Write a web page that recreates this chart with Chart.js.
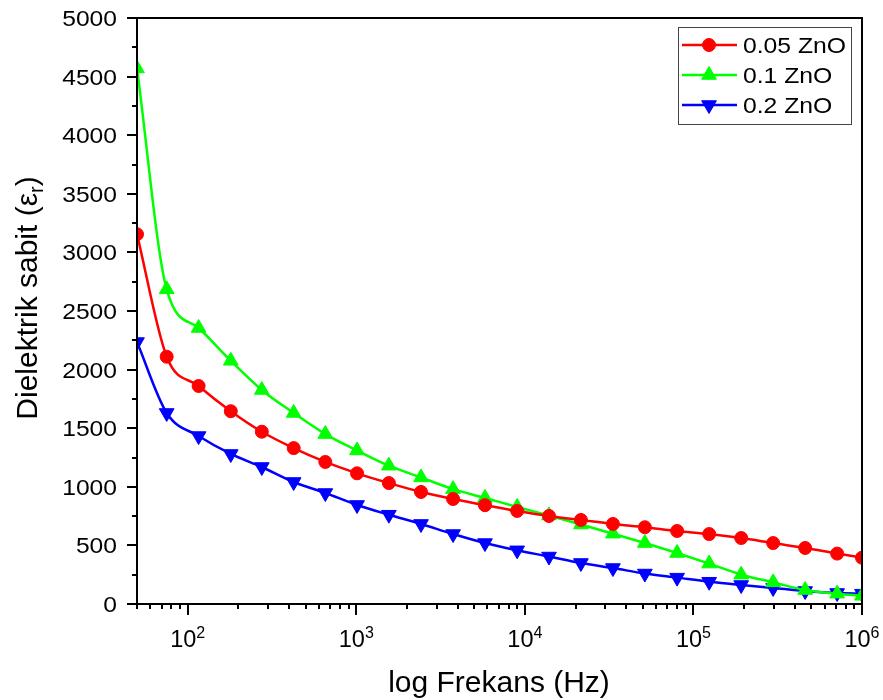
<!DOCTYPE html>
<html>
<head>
<meta charset="utf-8">
<script src="https://cdn.jsdelivr.net/npm/chart.js@4/dist/chart.umd.min.js"></script>
<style>
    body { margin: 0; background: #ffffff; }
    canvas { display: block; }
</style>
</head>
<body>
<canvas id="eps_chart" width="883" height="700"></canvas>
<script>

// frequencies (Hz)
const freq_hz = [50, 75, 116, 180, 275, 425, 655, 1010, 1560, 2420, 3750, 5800, 9000, 13900,
                 21500, 33300, 51500, 80000, 124000, 192000, 297000, 460000, 712000, 1000000];

const eps_005_zno = [3155, 2110, 1860, 1645, 1470, 1330, 1212, 1115, 1032, 956, 896, 843, 794, 751,
                     717, 683, 655, 623, 597, 563, 520, 478, 430, 395];
const eps_01_zno  = [4570, 2685, 2355, 2075, 1826, 1630, 1450, 1310, 1180, 1080, 980, 905, 828, 755,
                     678, 600, 520, 435, 345, 250, 185, 119, 88, 70];
const eps_02_zno  = [2235, 1630, 1433, 1280, 1169, 1041, 947, 845, 762, 683, 597, 520, 458, 405,
                     350, 307, 260, 225, 190, 162, 137, 111, 94, 88];

const series_names = ["0.05 ZnO", "0.1 ZnO", "0.2 ZnO"];
const y_major_ticks = [0, 500, 1000, 1500, 2000, 2500, 3000, 3500, 4000, 4500, 5000];
const x_decades = [2, 3, 4, 5, 6];

const FONT = '"Liberation Sans", Arial, sans-serif';

function toPoints(values) {
    return freq_hz.map((f, i) => ({x: f, y: values[i]}));
}

function makeDataset(label, values, color, style, rotation, radius) {
    return {
        label: label,
        data: toPoints(values),
        borderColor: color,
        backgroundColor: color,
        borderWidth: 2.5,
        pointStyle: style,
        rotation: rotation,
        pointRadius: radius,
        pointBorderWidth: 1,
        pointBorderColor: color,
        pointBackgroundColor: color,
        cubicInterpolationMode: 'monotone',
        fill: false
    };
}

function drawText(ctx, text, x, y, size, align, stretch) {
    ctx.save();
    ctx.font = size + 'px ' + FONT;
    ctx.textAlign = align;
    ctx.textBaseline = 'alphabetic';
    ctx.translate(x, y);
    ctx.scale(stretch, 1);
    ctx.fillText(text, 0, 0);
    ctx.restore();
}

function drawMarker(ctx, ds, x, y) {
    if (Chart.helpers && Chart.helpers.drawPoint) {
        ctx.fillStyle = ds.backgroundColor;
        ctx.strokeStyle = ds.borderColor;
        ctx.lineWidth = 1;
        Chart.helpers.drawPoint(ctx, {pointStyle: ds.pointStyle, rotation: ds.rotation, radius: ds.pointRadius, borderWidth: 1}, x, y);
    }
}

// axes, ticks, titles and legend drawn in Origin style
const origin_axes = {
    id: 'origin_axes',
    afterDraw(chart) {
        const ctx = chart.ctx;
        const area = chart.chartArea;
        const x_scale = chart.scales.x;
        const y_scale = chart.scales.y;

        ctx.save();
        ctx.strokeStyle = '#000000';
        ctx.fillStyle = '#000000';
        ctx.lineWidth = 2;
        ctx.strokeRect(area.left, area.top, area.right - area.left, area.bottom - area.top);

        // y ticks
        for (let v = 0; v <= 5000; v += 250) {
            const py = Math.round(y_scale.getPixelForValue(v));
            const len = (v % 500 == 0) ? 10 : 5;
            ctx.beginPath();
            ctx.moveTo(area.left - len, py);
            ctx.lineTo(area.left, py);
            ctx.stroke();
        }
        y_major_ticks.forEach(v => {
            const py = y_scale.getPixelForValue(v);
            drawText(ctx, String(v), 117, py + 8, 22, 'right', 1.12);
        });

        // x ticks
        for (let d = 1; d <= 6; d++) {
            for (let m = 1; m <= 9; m++) {
                const v = m * Math.pow(10, d);
                if (v < 50 || v > 1000000) continue;
                const px = Math.round(x_scale.getPixelForValue(v));
                const len = (m == 1) ? 11 : 5;
                ctx.beginPath();
                ctx.moveTo(px, area.bottom);
                ctx.lineTo(px, area.bottom + len);
                ctx.stroke();
            }
        }
        x_decades.forEach(d => {
            const px = x_scale.getPixelForValue(Math.pow(10, d));
            ctx.font = '23.5px ' + FONT;
            const w_base = ctx.measureText('10').width;
            ctx.font = '16px ' + FONT;
            const w_exp = ctx.measureText(String(d)).width;
            const start = px - (w_base + w_exp) / 2;
            drawText(ctx, '10', start, 647, 23.5, 'left', 1);
            drawText(ctx, String(d), start + w_base, 638, 16, 'left', 1);
        });

        // axis titles
        drawText(ctx, 'log Frekans (Hz)', 499, 692, 30, 'center', 1);

        ctx.save();
        ctx.translate(37, 298);
        ctx.rotate(-Math.PI / 2);
        ctx.font = '30px ' + FONT;
        const part_a = 'Dielektrik sabit (\u03B5';
        const w_a = ctx.measureText(part_a).width;
        const w_c = ctx.measureText(')').width;
        ctx.font = '20px ' + FONT;
        const w_b = ctx.measureText('r').width;
        let tx = -(w_a + w_b + w_c) / 2;
        ctx.textBaseline = 'alphabetic';
        ctx.textAlign = 'left';
        ctx.font = '30px ' + FONT;
        ctx.fillText(part_a, tx, 0);
        tx += w_a;
        ctx.font = '20px ' + FONT;
        ctx.fillText('r', tx, 6);
        tx += w_b;
        ctx.font = '30px ' + FONT;
        ctx.fillText(')', tx, 0);
        ctx.restore();

        // legend
        ctx.lineWidth = 1;
        ctx.strokeStyle = '#444444';
        ctx.strokeRect(678.5, 27.5, 173, 97);
        chart.data.datasets.forEach((ds, i) => {
            const row_y = 45 + i * 30;
            ctx.strokeStyle = ds.borderColor;
            ctx.lineWidth = 2.5;
            ctx.beginPath();
            ctx.moveTo(682, row_y);
            ctx.lineTo(737, row_y);
            ctx.stroke();
            drawMarker(ctx, ds, 709, row_y);
            ctx.fillStyle = '#000000';
            drawText(ctx, ds.label, 743, row_y + 8, 21.5, 'left', 1.15);
        });

        ctx.restore();
    }
};

new Chart(document.getElementById('eps_chart'), {
    type: 'line',
    data: {
        datasets: [
            makeDataset(series_names[0], eps_005_zno, '#ff0000', 'circle', 0, 6.5),
            makeDataset(series_names[1], eps_01_zno, '#00ff00', 'triangle', 0, 8.5),
            makeDataset(series_names[2], eps_02_zno, '#0000ff', 'triangle', 180, 8.5)
        ]
    },
    options: {
        responsive: false,
        animation: false,
        devicePixelRatio: 1,
        layout: {padding: {left: 137, right: 21, top: 18, bottom: 96}},
        scales: {
            x: {type: 'logarithmic', min: 50, max: 1000000, display: false},
            y: {type: 'linear', min: 0, max: 5000, display: false}
        },
        plugins: {
            legend: {display: false},
            tooltip: {enabled: false}
        }
    },
    plugins: [origin_axes]
});

</script>
</body>
</html>
